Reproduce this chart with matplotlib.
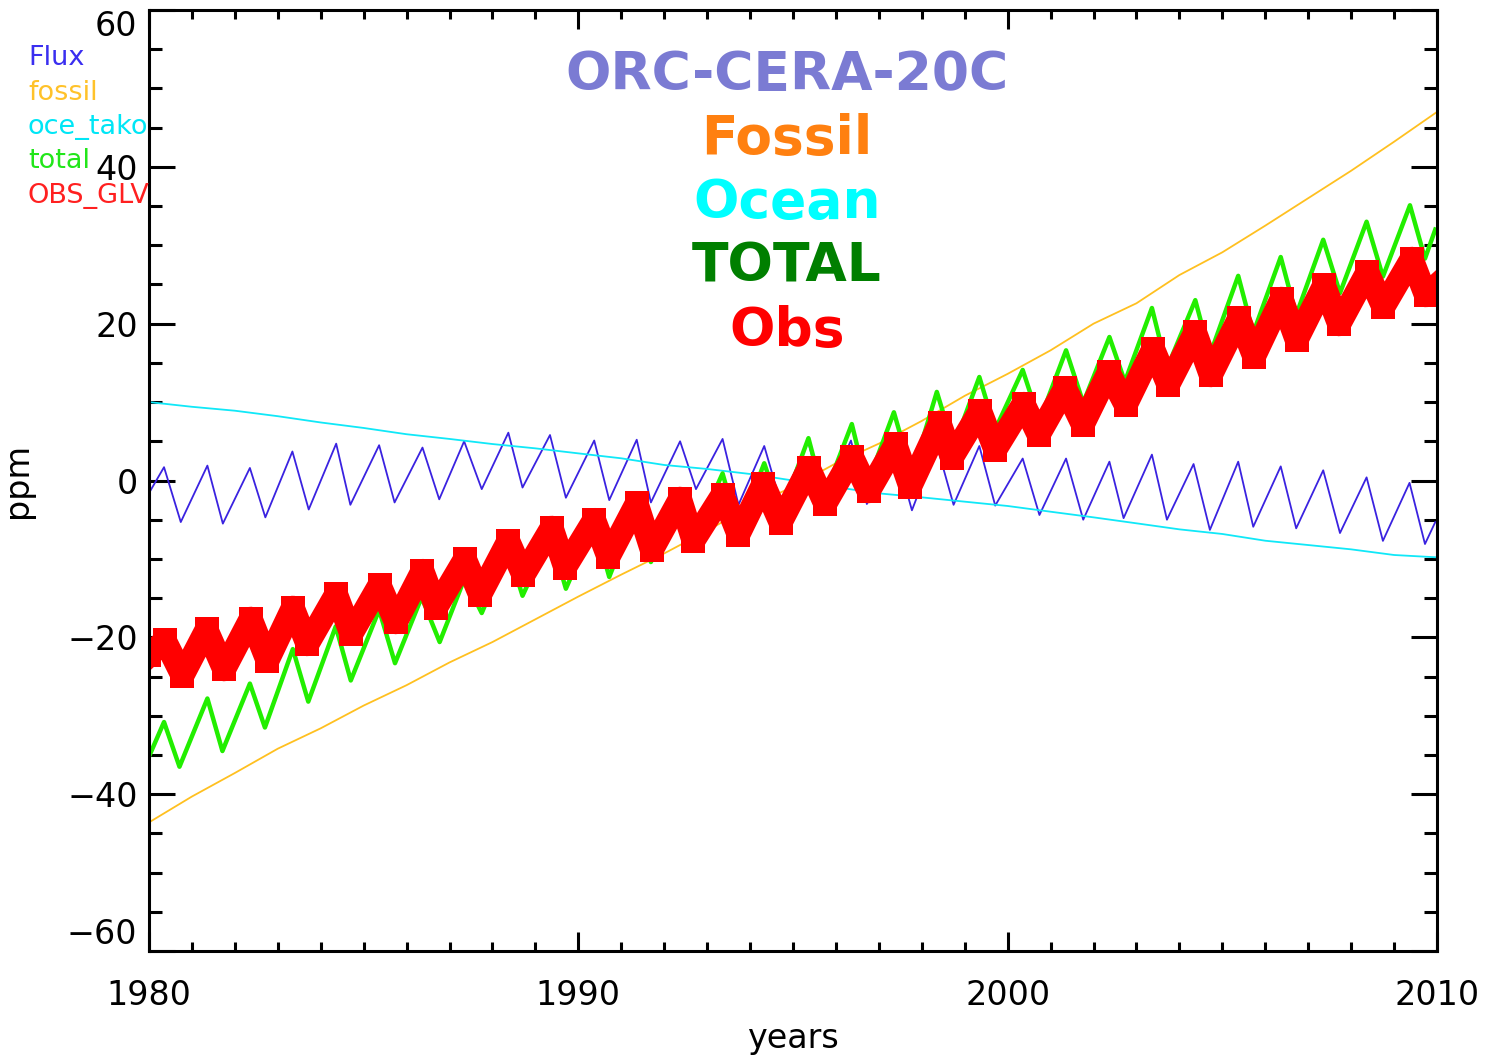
import matplotlib
matplotlib.use("Agg")
import matplotlib.pyplot as plt
import numpy as np
from matplotlib.ticker import MultipleLocator, FuncFormatter

# yearly values (smooth curves)
years = np.arange(1980, 2011)
fossil = [-43.6, -40.3, -37.3, -34.2, -31.6, -28.7, -26.1, -23.2, -20.6, -17.7,
          -14.8, -12.0, -9.3, -6.4, -3.3, -0.8, 2.2, 4.7, 7.6, 10.8,
          13.6, 16.6, 20.0, 22.6, 26.2, 29.1, 32.5, 36.0, 39.5, 43.2, 47.0]
ocean = [10.0, 9.4, 8.9, 8.2, 7.4, 6.7, 5.9, 5.3, 4.65, 4.1,
         3.46, 2.83, 1.98, 1.47, 0.83, 0.0, -0.85, -1.64, -2.15, -2.7,
         -3.25, -3.98, -4.7, -5.46, -6.23, -6.82, -7.68, -8.23, -8.78, -9.5, -9.8]

# seasonal series: start/end values plus yearly maxima and minima
flux_ends_t = [1980.0, 2009.96]
flux_ends_v = [-1.6, -5.3]
flux_peak_t = [1980.35, 1981.36, 1982.35, 1983.34, 1984.36, 1985.36, 1986.37, 1987.34, 1988.37, 1989.34,
               1990.37, 1991.36, 1992.37, 1993.36, 1994.33, 1995.35, 1996.35, 1997.35, 1998.35, 1999.34,
               2000.35, 2001.36, 2002.37, 2003.36, 2004.33, 2005.37, 2006.36, 2007.35, 2008.36, 2009.36]
flux_peak_v = [1.7, 1.9, 1.6, 3.7, 4.7, 4.5, 4.2, 5.0, 6.1, 5.8,
               5.1, 5.2, 5.0, 5.3, 4.4, 5.0, 5.1, 4.5, 4.5, 4.4,
               2.8, 2.8, 2.4, 3.3, 2.1, 2.4, 1.8, 1.3, 0.4, -0.3]
flux_trough_t = [1980.74, 1981.72, 1982.71, 1983.72, 1984.69, 1985.72, 1986.76, 1987.75, 1988.70, 1989.71,
                 1990.72, 1991.69, 1992.74, 1993.73, 1994.72, 1995.72, 1996.72, 1997.77, 1998.74, 1999.71,
                 2000.74, 2001.76, 2002.70, 2003.71, 2004.71, 2005.72, 2006.72, 2007.74, 2008.74, 2009.72]
flux_trough_v = [-5.3, -5.5, -4.7, -3.7, -3.1, -2.8, -2.4, -1.1, -0.9, -2.2,
                 -2.5, -2.8, -1.1, -3.1, -3.0, -2.5, -3.0, -3.8, -3.1, -3.2,
                 -4.4, -5.0, -4.8, -5.0, -6.3, -5.9, -6.1, -6.7, -7.7, -8.1]

total_ends_t = [1980.0, 2009.96]
total_ends_v = [-35.2, 32.0]
total_peak_t = [1980.35, 1981.36, 1982.35, 1983.35, 1984.35, 1985.36, 1986.35, 1987.35, 1988.37, 1989.35,
                1990.37, 1991.36, 1992.37, 1993.36, 1994.33, 1995.36, 1996.37, 1997.35, 1998.35, 1999.34,
                2000.35, 2001.36, 2002.37, 2003.36, 2004.37, 2005.37, 2006.36, 2007.35, 2008.36, 2009.37]
total_peak_v = [-30.8, -27.8, -25.9, -21.5, -18.6, -16.5, -14.9, -12.5, -8.9, -7.0,
                -5.5, -3.4, -1.4, 0.9, 2.2, 5.4, 7.2, 8.7, 11.3, 13.2,
                14.1, 16.6, 18.3, 22.0, 23.0, 26.1, 28.5, 30.7, 33.0, 35.1]
total_trough_t = [1980.71, 1981.71, 1982.70, 1983.71, 1984.70, 1985.73, 1986.77, 1987.75, 1988.70, 1989.71,
                  1990.72, 1991.69, 1992.74, 1993.73, 1994.72, 1995.72, 1996.72, 1997.77, 1998.74, 1999.71,
                  2000.74, 2001.76, 2002.73, 2003.71, 2004.71, 2005.72, 2006.72, 2007.74, 2008.74, 2009.72]
total_trough_v = [-36.5, -34.5, -31.5, -28.2, -25.5, -23.3, -20.6, -16.9, -14.7, -13.8,
                  -12.3, -10.4, -6.6, -6.3, -4.1, -2.1, -0.6, 0.7, 4.3, 6.5,
                  7.6, 9.9, 12.6, 14.3, 16.0, 18.8, 21.1, 23.9, 26.0, 28.3]

obs_ends_t = [1980.0, 2009.96]
obs_ends_v = [-22.3, 24.7]
obs_peak_t = [1980.37, 1981.34, 1982.37, 1983.35, 1984.36, 1985.37, 1986.37, 1987.36, 1988.37, 1989.38,
              1990.37, 1991.36, 1992.37, 1993.36, 1994.31, 1995.37, 1996.38, 1997.39, 1998.42, 1999.36,
              2000.37, 2001.34, 2002.35, 2003.39, 2004.37, 2005.39, 2006.38, 2007.37, 2008.38, 2009.41]
obs_peak_v = [-20.4, -19.0, -17.6, -16.2, -14.5, -13.3, -11.5, -10.0, -7.7, -6.0,
              -5.0, -2.9, -2.3, -1.8, -0.4, 1.6, 3.0, 4.6, 7.3, 8.9,
              9.8, 11.8, 13.8, 16.8, 18.9, 20.7, 23.2, 24.9, 26.6, 28.3]
obs_trough_t = [1980.78, 1981.75, 1982.76, 1983.69, 1984.71, 1985.75, 1986.69, 1987.71, 1988.72, 1989.69,
                1990.70, 1991.71, 1992.68, 1993.73, 1994.71, 1995.75, 1996.76, 1997.73, 1998.70, 1999.71,
                2000.72, 2001.75, 2002.75, 2003.74, 2004.73, 2005.74, 2006.73, 2007.72, 2008.75, 2009.74]
obs_trough_v = [-24.9, -24.1, -23.0, -20.9, -19.6, -18.1, -16.2, -14.6, -12.1, -11.1,
                -9.8, -8.9, -7.7, -6.9, -5.4, -3.0, -1.4, -0.8, 2.9, 3.9,
                5.8, 7.1, 9.6, 12.2, 13.4, 15.8, 17.9, 19.9, 22.1, 23.6]

legend_labels = ["Flux", "fossil", "oce_tako", "total", "OBS_GLV"]
legend_colors = ["#3a2ef0", "#ffc22a", "#00e6f6", "#22e61a", "#ff2020"]
title_lines = ["ORC-CERA-20C", "Fossil", "Ocean", "TOTAL", "Obs"]
title_colors = ["#7b7bd3", "#ff8010", "#00ffff", "#007f00", "#ff0000"]
y_min, y_max = -60, 60


def merge(ends_t, ends_v, pk_t, pk_v, tr_t, tr_v):
    t = np.concatenate([ends_t, pk_t, tr_t])
    v = np.concatenate([ends_v, pk_v, tr_v])
    order = np.argsort(t)
    return t[order], v[order]


flux_t, flux_v = merge(flux_ends_t, flux_ends_v, flux_peak_t, flux_peak_v, flux_trough_t, flux_trough_v)
total_t, total_v = merge(total_ends_t, total_ends_v, total_peak_t, total_peak_v, total_trough_t, total_trough_v)
obs_t, obs_v = merge(obs_ends_t, obs_ends_v, obs_peak_t, obs_peak_v, obs_trough_t, obs_trough_v)

plt.rcParams['font.family'] = ['DejaVu Sans']

fig = plt.figure(figsize=(14.95, 10.58), dpi=100)
ax = fig.add_axes([149 / 1495, 107 / 1058, 1288 / 1495, 941 / 1058])

ax.plot(flux_t, flux_v, color="#3a22e0", lw=1.3)
ax.plot(years, fossil, color="#ffc020", lw=1.3)
ax.plot(years, ocean, color="#10e8f8", lw=1.3)
ax.plot(total_t, total_v, color="#22ee00", lw=3.2)
ax.plot(obs_t, obs_v, color="#ff0000", lw=17, solid_joinstyle="round",
        marker="s", markersize=17, markeredgewidth=0)

ax.set_xlim(1980, 2010)
ax.set_ylim(y_min, y_max)
ax.xaxis.set_major_locator(MultipleLocator(10))
ax.xaxis.set_minor_locator(MultipleLocator(1))
ax.yaxis.set_major_locator(MultipleLocator(20))
ax.yaxis.set_minor_locator(MultipleLocator(5))


# end labels are drawn separately, shifted inside like IDL does
def ylab(v, pos):
    if v <= y_min or v >= y_max:
        return ""
    return f"{v:.0f}".replace("-", "\u2212")


ax.yaxis.set_major_formatter(FuncFormatter(ylab))

for s in ax.spines.values():
    s.set_linewidth(2.2)
ax.tick_params(axis="both", which="both", direction="in", top=True, right=True,
               width=2.2, labelsize=24)
ax.tick_params(axis="x", which="major", length=13.7, pad=20)
ax.tick_params(axis="x", which="minor", length=6.8)
ax.tick_params(axis="y", which="major", length=18.7, pad=8)
ax.tick_params(axis="y", which="minor", length=9.4)

lab_x = -12 / 1288
ax.text(lab_x, 1.0, f"{y_max}", transform=ax.transAxes, fontsize=24,
        ha="right", va="top")
ax.text(lab_x, 0.0, f"{y_min}".replace("-", "\u2212"), transform=ax.transAxes,
        fontsize=24, ha="right", va="bottom")

ax.set_xlabel("years", fontsize=24, labelpad=7.5)
ax.set_ylabel("ppm", fontsize=24, labelpad=24)

# legend text in the top-left corner
for i, (lab, col) in enumerate(zip(legend_labels, legend_colors)):
    fig.text(28 / 1495, 1 - (65 + 34.5 * i) / 1058, lab, color=col,
             fontsize=19.5, ha="left", va="baseline")

# big coloured titles
for i, (lab, col) in enumerate(zip(title_lines, title_colors)):
    fig.text(787 / 1495, 1 - (90 + 64 * i) / 1058, lab, color=col,
             fontsize=38.5, fontweight="bold", ha="center", va="baseline")

fig.savefig("out.png", dpi=100)
